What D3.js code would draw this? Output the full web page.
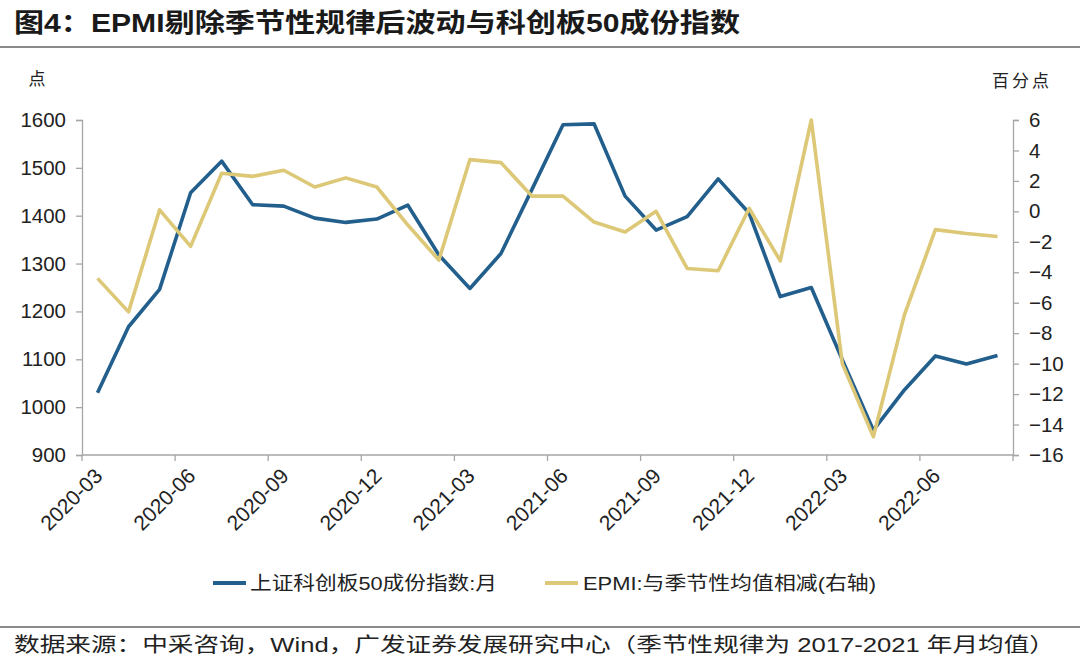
<!DOCTYPE html>
<html>
<head>
<meta charset="utf-8">
<script src="https://cdn.jsdelivr.net/npm/d3@7"></script>
<style>
  html, body { margin: 0; padding: 0; background: #fff; }
  svg { display: block; }
  text { font-family: "Liberation Sans", Arial, "Noto Sans CJK SC", sans-serif; }
</style>
</head>
<body>
<svg id="chart" width="1080" height="669"></svg>
<script>
// ---------------- data ----------------
const months = [
  "2020-03","2020-04","2020-05","2020-06","2020-07","2020-08","2020-09","2020-10","2020-11","2020-12",
  "2021-01","2021-02","2021-03","2021-04","2021-05","2021-06","2021-07","2021-08","2021-09","2021-10",
  "2021-11","2021-12","2022-01","2022-02","2022-03","2022-04","2022-05","2022-06","2022-07","2022-08"
];
const kc50 = [
  1030, 1168, 1246, 1448, 1514, 1423, 1420, 1395, 1386, 1393,
  1422, 1318, 1248, 1321, 1455, 1590, 1592, 1441, 1370, 1398,
  1477, 1405, 1231, 1250, 1099, 952, 1036, 1107, 1090, 1108
];
const epmi = [
  -4.4, -6.6, 0.1, -2.3, 2.5, 2.3, 2.7, 1.6, 2.2, 1.6,
  -0.9, -3.2, 3.4, 3.2, 1.0, 1.0, -0.7, -1.35, 0.0, -3.75,
  -3.9, 0.2, -3.25, 6.0, -10.0, -14.8, -6.8, -1.2, -1.45, -1.65
];
const leftTicks = [900, 1000, 1100, 1200, 1300, 1400, 1500, 1600];
const rightTicks = [-16, -14, -12, -10, -8, -6, -4, -2, 0, 2, 4, 6];
const xLabels = ["2020-03","2020-06","2020-09","2020-12","2021-03","2021-06","2021-09","2021-12","2022-03","2022-06"];
const seriesNames = ["上证科创板50成份指数:月", "EPMI:与季节性均值相减(右轴)"];
const titleText = "图4：EPMI剔除季节性规律后波动与科创板50成份指数";
const sourceText = "数据来源：中采咨询，Wind，广发证券发展研究中心（季节性规律为 2017-2021 年月均值）";

// ---------------- layout ----------------
const svg = d3.select("#chart");
const plot = { left: 82, right: 1013, top: 120, bottom: 455 };
const blue = "#225f8c", gold = "#dcc877", axisCol = "#a6a6a6", textCol = "#222";

const x = d3.scaleBand().domain(months).range([plot.left, plot.right]).padding(0);
const yL = d3.scaleLinear().domain([900, 1600]).range([plot.bottom, plot.top]);
const yR = d3.scaleLinear().domain([-16, 6]).range([plot.bottom, plot.top]);
const cx = m => x(m) + x.bandwidth() / 2;

// title
svg.append("text").attr("x", 14).attr("y", 32)
  .attr("font-size", 26).attr("font-weight", "bold").attr("fill", "#1a1a1a")
  .attr("textLength", 726).attr("lengthAdjust", "spacingAndGlyphs")
  .text(titleText);
svg.append("line").attr("x1", 0).attr("x2", 1080).attr("y1", 47).attr("y2", 47)
  .attr("stroke", "#8a8a8a").attr("stroke-width", 2);

// unit labels
svg.append("text").attr("x", 37).attr("y", 85).attr("font-size", 17).attr("fill", textCol)
  .attr("text-anchor", "middle").text("点");
svg.append("text").attr("x", 992).attr("y", 87).attr("font-size", 17).attr("fill", textCol)
  .attr("textLength", 57).attr("lengthAdjust", "spacing").text("百分点");

// left axis
const gL = svg.append("g").attr("transform", `translate(${plot.left},0)`)
  .call(d3.axisLeft(yL).tickValues(leftTicks).tickSize(6).tickPadding(10).tickFormat(d3.format("d")));
// right axis
const gR = svg.append("g").attr("transform", `translate(${plot.right},0)`)
  .call(d3.axisRight(yR).tickValues(rightTicks).tickSize(6).tickPadding(10).tickFormat(d3.format("d")));
[gL, gR].forEach(g => {
  g.select(".domain").attr("stroke", axisCol).attr("stroke-width", 1.3);
  g.selectAll(".tick line").attr("stroke", axisCol).attr("stroke-width", 1.3);
  g.selectAll(".tick text").attr("font-size", 20.5).attr("fill", textCol)
    .attr("font-family", "'Liberation Sans', Arial, sans-serif");
});

// x axis
const gX = svg.append("g");
gX.append("line").attr("x1", plot.left).attr("x2", plot.right)
  .attr("y1", plot.bottom).attr("y2", plot.bottom)
  .attr("stroke", axisCol).attr("stroke-width", 1.3);
const boundaries = months.map((m, i) => i).filter(i => i % 3 === 0).map(i => x(months[i])).concat([plot.right]);
gX.selectAll("line.tk").data(boundaries).enter().append("line").attr("class", "tk")
  .attr("x1", d => d).attr("x2", d => d).attr("y1", plot.bottom).attr("y2", plot.bottom + 6)
  .attr("stroke", axisCol).attr("stroke-width", 1.3);
gX.selectAll("text.xl").data(xLabels).enter().append("text").attr("class", "xl")
  .attr("transform", d => `translate(${cx(d) + 1},${plot.bottom + 17}) rotate(-45)`)
  .attr("text-anchor", "end").attr("dy", "0.35em")
  .attr("font-size", 21).attr("fill", textCol)
  .text(d => d);

// lines
const lineL = d3.line().x((d, i) => cx(months[i])).y(d => yL(d));
const lineR = d3.line().x((d, i) => cx(months[i])).y(d => yR(d));
svg.append("path").datum(kc50).attr("d", lineL).attr("fill", "none")
  .attr("stroke", blue).attr("stroke-width", 3.6).attr("stroke-linejoin", "round");
svg.append("path").datum(epmi).attr("d", lineR).attr("fill", "none")
  .attr("stroke", gold).attr("stroke-width", 3.6).attr("stroke-linejoin", "round");

// legend
const legend = [
  { name: seriesNames[0], color: blue, x1: 213, tx: 250, tl: 247 },
  { name: seriesNames[1], color: gold, x1: 545, tx: 583, tl: 293 }
];
legend.forEach(l => {
  svg.append("line").attr("x1", l.x1).attr("x2", l.x1 + 33).attr("y1", 583).attr("y2", 583)
    .attr("stroke", l.color).attr("stroke-width", 4);
  svg.append("text").attr("x", l.tx).attr("y", 590).attr("font-size", 19).attr("fill", textCol)
    .attr("textLength", l.tl).attr("lengthAdjust", "spacingAndGlyphs").text(l.name);
});

// footer
svg.append("line").attr("x1", 0).attr("x2", 1080).attr("y1", 627).attr("y2", 627)
  .attr("stroke", "#8a8a8a").attr("stroke-width", 2);
svg.append("text").attr("x", 14).attr("y", 652).attr("font-size", 20).attr("fill", textCol)
  .attr("textLength", 1041).attr("lengthAdjust", "spacingAndGlyphs").text(sourceText);
</script>
</body>
</html>
